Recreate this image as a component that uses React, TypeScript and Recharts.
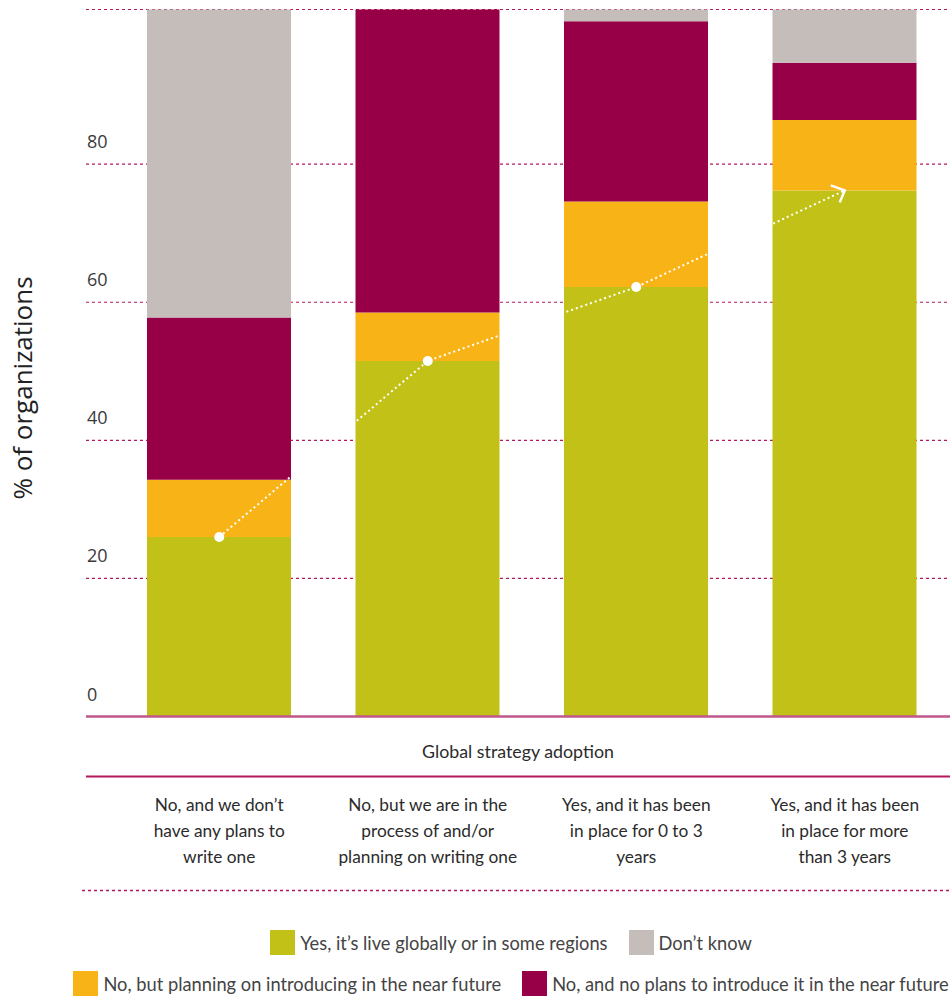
import React from 'react';
import { ComposedChart, Bar, Line, XAxis, YAxis, CartesianGrid, Legend } from 'recharts';

const CATEGORIES = [
  'No, and we don’t have any plans to write one',
  'No, but we are in the process of and/or planning on writing one',
  'Yes, and it has been in place for 0 to 3 years',
  'Yes, and it has been in place for more than 3 years',
];
const CATEGORY_LINES = [
  ['No, and we don’t', 'have any plans to', 'write one'],
  ['No, but we are in the', 'process of and/or', 'planning on writing one'],
  ['Yes, and it has been', 'in place for 0 to 3', 'years'],
  ['Yes, and it has been', 'in place for more', 'than 3 years'],
];

const LIVE = [26.0, 51.5, 62.2, 76.2];
const PLANNING = [8.3, 7.0, 12.4, 10.2];
const NO_PLANS = [23.5, 43.9, 26.1, 8.3];
const DONT_KNOW = [44.6, 0, 1.7, 7.7];

const Y_TICKS = [0, 20, 40, 60, 80];
const Y_MAX = 102.4;

const X_TITLE = 'Global strategy adoption';
const Y_TITLE = '% of organizations';

const SERIES = [
  { key: 'live', name: 'Yes, it’s live globally or in some regions', color: '#C2C118' },
  { key: 'planning', name: 'No, but planning on introducing in the near future', color: '#F8B317' },
  { key: 'noPlans', name: 'No, and no plans to introduce it in the near future', color: '#970046' },
  { key: 'dontKnow', name: 'Don’t know', color: '#C5BDBA' },
];
const LEGEND_ROWS = [
  ['live', 'dontKnow'],
  ['planning', 'noPlans'],
];

const data = CATEGORIES.map((category, i) => ({
  category,
  live: LIVE[i],
  planning: PLANNING[i],
  noPlans: NO_PLANS[i],
  dontKnow: DONT_KNOW[i],
  trend: LIVE[i],
}));

const CRIMSON = '#B3175C';
const SANS = 'Lato, "Open Sans", sans-serif';

const YTick = (props: any) => {
  const { x, y, payload } = props;
  if (payload.value > 100) return <g />;
  return (
    <text x={x + 1} y={y - 16} textAnchor="start" fontFamily='"Open Sans", sans-serif' fontSize={18} fill="#3a3a3a">
      {payload.value}
    </text>
  );
};

const XTick = (props: any) => {
  const { x, y, payload } = props;
  const idx = CATEGORIES.indexOf(payload.value);
  const lines = CATEGORY_LINES[idx] || [payload.value];
  return (
    <g>
      {lines.map((ln, i) => (
        <text key={i} x={x} y={y + 94.5 + i * 26} textAnchor="middle" fontFamily={SANS} fontSize={17.3} fill="#2b2b2b">
          {ln}
        </text>
      ))}
    </g>
  );
};

const XTitle = (props: any) => {
  const { x, y, width } = props.viewBox;
  return (
    <g>
      <text x={x + width / 2} y={y + 41} textAnchor="middle" fontFamily={SANS} fontSize={17.8} fill="#2b2b2b">
        {X_TITLE}
      </text>
      <line x1={x} x2={x + width} y1={y + 60} y2={y + 60} stroke={CRIMSON} strokeWidth={2} />
      <line x1={x - 4} x2={x + width} y1={y + 174} y2={y + 174} stroke={CRIMSON} strokeWidth={1.5} strokeDasharray="3 3" />
    </g>
  );
};

const YTitle = (props: any) => {
  const { y, height } = props.viewBox;
  const cx = 32;
  const cy = y + height / 2 + 25;
  return (
    <text
      x={cx}
      y={cy}
      transform={`rotate(-90 ${cx} ${cy})`}
      textAnchor="middle"
      fontFamily='"Open Sans", sans-serif'
      fontSize={26}
      fill="#222"
    >
      {Y_TITLE}
    </text>
  );
};

const TrendDot = (props: any) => {
  const { cx, cy, index } = props;
  if (index === data.length - 1) {
    return (
      <path
        key={`d${index}`}
        d={`M${cx - 14},${cy - 5} L${cx},${cy} L${cx - 5},${cy + 12}`}
        stroke="#fff"
        strokeWidth={2.5}
        fill="none"
      />
    );
  }
  return <circle key={`d${index}`} cx={cx} cy={cy} r={5} fill="#fff" />;
};

const LegendContent = () => (
  <div style={{ marginLeft: 66, width: 890, fontFamily: SANS, fontSize: 18.3, color: '#444' }}>
    {LEGEND_ROWS.map((row, ri) => (
      <div key={ri} style={{ display: 'flex', justifyContent: 'center', alignItems: 'center', height: 41, gap: 21 }}>
        {row.map((k) => {
          const s = SERIES.find((e) => e.key === k)!;
          return (
            <div key={k} style={{ display: 'flex', alignItems: 'center', gap: 5 }}>
              <span style={{ display: 'inline-block', width: 25, height: 25, background: s.color }} />
              <span style={{ whiteSpace: 'nowrap' }}>{s.name}</span>
            </div>
          );
        })}
      </div>
    ))}
  </div>
);

export default function App() {
  return (
    <div style={{ position: 'absolute', left: 0, top: 0, width: 950, height: 996, background: '#fff' }}>
      <ComposedChart width={950} height={996} data={data} margin={{ top: 9.5, right: 0, bottom: 0, left: 0 }}>
        <CartesianGrid vertical={false} stroke={CRIMSON} strokeDasharray="3 3" strokeWidth={1.2} />
        <XAxis
          dataKey="category"
          height={279.5}
          interval={0}
          tickLine={false}
          tickSize={0}
          tickMargin={0}
          padding={{ left: 29, right: 1 }}
          axisLine={{ stroke: '#C0578A', strokeWidth: 2.5 }}
          tick={<XTick />}
          label={(p: any) => <XTitle {...p} />}
        />
        <YAxis
          width={86}
          domain={[0, Y_MAX]}
          ticks={[...Y_TICKS, Y_MAX]}
          axisLine={false}
          tickLine={false}
          tickSize={0}
          tickMargin={0}
          tick={<YTick />}
          label={(p: any) => <YTitle {...p} />}
        />
        {SERIES.map((s) => (
          <Bar key={s.key} dataKey={s.key} name={s.name} stackId="a" fill={s.color} barSize={144} isAnimationActive={false} />
        ))}
        <Line
          dataKey="trend"
          type="linear"
          stroke="#fff"
          strokeWidth={2}
          strokeDasharray="2 3"
          dot={TrendDot}
          activeDot={false}
          legendType="none"
          isAnimationActive={false}
        />
        <Legend
          layout="horizontal"
          verticalAlign="middle"
          align="center"
          wrapperStyle={{ top: 922, left: 0, width: 950 }}
          content={LegendContent}
        />
      </ComposedChart>
    </div>
  );
}
